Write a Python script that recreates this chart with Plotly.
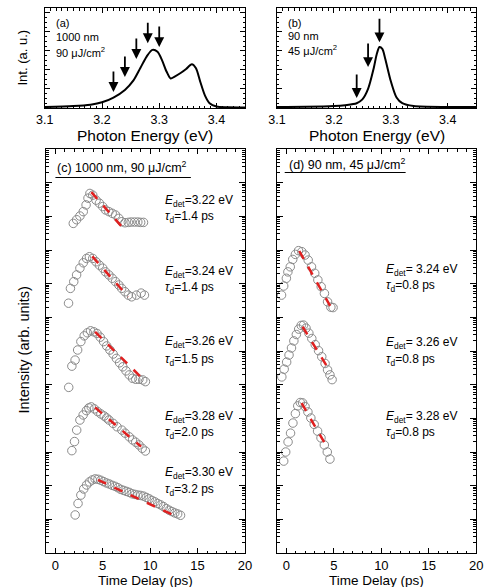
import plotly.graph_objects as go

W, H = 491, 587
FONT = "Liberation Sans, Arial, sans-serif"

# ---------------- data ----------------
# (a) 1000 nm spectrum
energy_a = [3.10, 3.15, 3.18, 3.20, 3.22, 3.24, 3.255, 3.267, 3.278, 3.288, 3.297, 3.305, 3.313,
            3.32, 3.327, 3.338, 3.347, 3.357, 3.364, 3.372, 3.38, 3.388, 3.40, 3.42, 3.45]
int_a = [0.01, 0.02, 0.035, 0.06, 0.11, 0.19, 0.29, 0.42, 0.54, 0.61, 0.59, 0.50, 0.38,
         0.31, 0.33, 0.37, 0.41, 0.46, 0.42, 0.27, 0.13, 0.05, 0.015, 0.008, 0.006]
arrows_a_E = [3.22, 3.24, 3.26, 3.28, 3.30]
arrows_a_tip = [0.168, 0.326, 0.515, 0.68, 0.64]

# (b) 90 nm spectrum
energy_b = [3.10, 3.15, 3.20, 3.22, 3.24, 3.25, 3.26, 3.27, 3.275, 3.28, 3.285, 3.29, 3.30,
            3.31, 3.32, 3.34, 3.40, 3.45]
int_b = [0.01, 0.012, 0.02, 0.03, 0.05, 0.09, 0.2, 0.42, 0.56, 0.64, 0.62, 0.52, 0.28,
         0.11, 0.05, 0.02, 0.01, 0.01]
arrows_b_E = [3.24, 3.26, 3.28]
arrows_b_tip = [0.105, 0.43, 0.69]

# (c) 1000 nm transients (log10 of intensity, offset by decades)
c1_t = [1.9, 2.25, 2.6, 2.95, 3.25, 3.45, 3.65, 3.95, 4.3, 4.65, 5.0, 5.3, 5.65, 6.0, 6.35,
        6.7, 7.0, 7.35, 7.7, 8.0, 8.35, 8.7, 9.0, 9.3]
c1_log = [9.79, 9.90, 10.01, 10.14, 10.34, 10.54, 10.68, 10.63, 10.48, 10.39, 10.29, 10.19,
          10.14, 10.09, 10.04, 9.94, 9.84, 9.81, 9.82, 9.83, 9.83, 9.83, 9.82, 9.82]
c1_fit_t = [3.8, 7.25]
c1_fit_log = [10.72, 9.62]

c2_t = [1.4, 1.6, 1.95, 2.25, 2.6, 2.95, 3.3, 3.6, 3.95, 4.3, 4.65, 5.0, 5.3, 5.65, 6.0,
        6.35, 6.7, 7.0, 7.35, 7.7, 8.05, 8.55, 9.05, 9.4]
c2_log = [7.42, 7.86, 8.06, 8.26, 8.46, 8.62, 8.75, 8.80, 8.75, 8.65, 8.55, 8.46, 8.35, 8.26,
          8.16, 8.06, 7.96, 7.86, 7.76, 7.66, 7.61, 7.66, 7.72, 7.66]
c2_fit_t = [3.9, 7.7]
c2_fit_log = [8.81, 7.61]

c3_t = [1.42, 1.75, 2.09, 2.36, 2.70, 3.05, 3.38, 3.72, 4.07, 4.40, 4.74, 5.09, 5.42, 5.76,
        6.10, 6.44, 6.78, 7.12, 7.46, 7.80, 8.14, 8.48, 8.82, 9.22, 9.50]
c3_log = [4.92, 5.55, 5.73, 6.03, 6.28, 6.45, 6.54, 6.60, 6.57, 6.52, 6.41, 6.28, 6.15, 6.03,
          5.91, 5.78, 5.65, 5.53, 5.41, 5.29, 5.19, 5.16, 5.16, 5.14, 5.09]
c3_fit_t = [4.2, 9.05]
c3_fit_log = [6.57, 5.22]

c4_t = [1.75, 2.03, 2.26, 2.60, 2.94, 3.28, 3.54, 3.79, 4.13, 4.47, 4.81, 5.15, 5.42, 5.66,
        6.10, 6.51, 7.02, 7.36, 7.80, 8.14, 8.48, 8.82, 9.16, 9.50]
c4_log = [3.04, 3.31, 3.65, 3.95, 4.10, 4.23, 4.31, 4.34, 4.28, 4.20, 4.13, 4.07, 4.01, 3.95,
          3.85, 3.75, 3.65, 3.56, 3.45, 3.36, 3.29, 3.21, 3.11, 3.03]
c4_fit_t = [4.2, 9.05]
c4_fit_log = [4.32, 3.16]

c5_t = [2.1, 2.4, 2.7, 3.0, 3.3, 3.6, 3.9, 4.2, 4.5, 4.8, 5.1, 5.4, 5.7, 6.0, 6.3, 6.6, 6.9,
        7.2, 7.5, 7.8, 8.1, 8.4, 8.7, 9.0, 9.3, 9.6, 9.9, 10.2, 10.5, 10.8, 11.1, 11.4, 11.7,
        12.0, 12.3, 12.6, 12.9, 13.2]
c5_log = [1.13, 1.47, 1.72, 1.90, 2.02, 2.11, 2.17, 2.20, 2.19, 2.16, 2.12, 2.08, 2.05, 2.01,
          1.98, 1.94, 1.89, 1.86, 1.83, 1.80, 1.76, 1.74, 1.72, 1.71, 1.69, 1.65, 1.61, 1.56,
          1.52, 1.47, 1.43, 1.38, 1.32, 1.27, 1.23, 1.19, 1.16, 1.12]
c5_fit_t = [4.5, 12.8]
c5_fit_log = [2.17, 1.08]

c_labels = ["3.22", "3.24", "3.26", "3.28", "3.30"]
c_taus = ["1.4", "1.4", "1.5", "2.0", "3.2"]

# (d) 90 nm transients
d1_t = [-0.52, -0.29, -0.01, 0.15, 0.40, 0.66, 0.94, 1.27, 1.62, 1.96, 2.29, 2.64, 2.98, 3.31,
        3.66, 4.00, 4.33, 4.68, 4.91]
d1_log = [7.66, 7.93, 8.16, 8.35, 8.50, 8.72, 8.87, 8.98, 8.95, 8.85, 8.70, 8.50, 8.31, 8.11,
          7.91, 7.71, 7.46, 7.30, 7.29]
d1_fit_t = [1.35, 4.6]
d1_fit_log = [8.97, 7.34]

d2_t = [-0.49, -0.24, 0.02, 0.27, 0.53, 0.78, 1.04, 1.29, 1.55, 1.80, 2.06, 2.36, 2.67, 3.03,
        3.38, 3.72, 4.07, 4.33, 4.58, 4.81]
d2_log = [5.23, 5.46, 5.67, 5.88, 6.09, 6.30, 6.49, 6.65, 6.76, 6.77, 6.68, 6.53, 6.37, 6.19,
          6.01, 5.83, 5.63, 5.44, 5.29, 5.15]
d2_fit_t = [1.7, 4.5]
d2_fit_log = [6.72, 5.44]

d3_t = [-0.29, -0.08, 0.17, 0.43, 0.68, 0.94, 1.19, 1.45, 1.70, 1.96, 2.26, 2.57, 2.92, 3.28,
        3.64, 3.99, 4.30, 4.58]
d3_log = [2.73, 3.00, 3.30, 3.56, 3.86, 4.14, 4.37, 4.47, 4.46, 4.35, 4.19, 4.01, 3.82, 3.62,
          3.42, 3.21, 3.00, 2.79]
d3_fit_t = [1.6, 4.45]
d3_fit_log = [4.45, 3.06]

d_labels = ["3.24", "3.26", "3.28"]
d_taus = ["0.8", "0.8", "0.8"]

# ---------------- figure ----------------
def fx(p):
    return p / W


def fy(p):
    return 1 - p / H


fig = go.Figure()

fig.add_trace(go.Scatter(x=energy_a, y=int_a, mode="lines", xaxis="x", yaxis="y",
                         line=dict(color="black", width=2, shape="spline", smoothing=0.8)))
fig.add_trace(go.Scatter(x=energy_b, y=int_b, mode="lines", xaxis="x2", yaxis="y2",
                         line=dict(color="black", width=2, shape="spline", smoothing=0.8)))

marker = dict(symbol="circle-open", size=8.5, color="#8a8a8a", line=dict(width=1))
fitline = dict(color="#e02020", width=2.5, dash="dash")

c_sets = [(c1_t, c1_log, c1_fit_t, c1_fit_log), (c2_t, c2_log, c2_fit_t, c2_fit_log),
          (c3_t, c3_log, c3_fit_t, c3_fit_log), (c4_t, c4_log, c4_fit_t, c4_fit_log),
          (c5_t, c5_log, c5_fit_t, c5_fit_log)]
d_sets = [(d1_t, d1_log, d1_fit_t, d1_fit_log), (d2_t, d2_log, d2_fit_t, d2_fit_log),
          (d3_t, d3_log, d3_fit_t, d3_fit_log)]

for sets, xa, ya in [(c_sets, "x3", "y3"), (d_sets, "x4", "y4")]:
    for t, lg, ft, flg in sets:
        fig.add_trace(go.Scatter(x=t, y=[10 ** v for v in lg], mode="markers",
                                 xaxis=xa, yaxis=ya, marker=marker))
        fig.add_trace(go.Scatter(x=ft, y=[10 ** v for v in flg], mode="lines",
                                 xaxis=xa, yaxis=ya, line=fitline))

# panel pixel boxes: (left, right, top, bottom)
box_a = (37, 244, 8, 108)
box_b = (277, 483, 8, 108)
box_c = (38, 244, 149, 553)
box_d = (277, 483, 149, 553)


def dom(box):
    l, r, t, b = box
    return [fx(l), fx(r)], [fy(b), fy(t)]


common = dict(showline=True, linecolor="black", linewidth=1, mirror="allticks",
              ticks="inside", tickcolor="black", ticklen=5, showgrid=False, zeroline=False,
              tickfont=dict(family=FONT, size=12.5, color="black"))
bottom_x_common = {**common, "tickfont": dict(family=FONT, size=13, color="black")}
log_common = {k: v for k, v in common.items() if k != "ticklen"}

xa_d, ya_d = dom(box_a)
xb_d, yb_d = dom(box_b)
xc_d, yc_d = dom(box_c)
xd_d, yd_d = dom(box_d)

top_x = dict(range=[3.1, 3.45], tick0=3.1, dtick=0.1, tickformat=".1f",
             minor=dict(ticks="inside", ticklen=2.5, dtick=0.01, tickcolor="black"))
top_y = dict(range=[0, 1.05], dtick=0.2, tick0=0, showticklabels=False,
             minor=dict(ticks="inside", ticklen=2.5, dtick=0.05, tickcolor="black"))
bot_x = dict(range=[-1, 20], tick0=0, dtick=5,
             minor=dict(ticks="inside", ticklen=2.5, dtick=1, tickcolor="black"))
bot_y = dict(type="log", range=[0, 12], dtick=1, showticklabels=False, ticklen=6,
             minor=dict(ticks="inside", ticklen=3, dtick="D1", tickcolor="black"))

fig.update_layout(
    width=W, height=H, margin=dict(l=0, r=0, t=0, b=0),
    paper_bgcolor="white", plot_bgcolor="white", showlegend=False,
    xaxis=dict(domain=xa_d, anchor="y", **common, **top_x),
    yaxis=dict(domain=ya_d, anchor="x", **common, **top_y),
    xaxis2=dict(domain=xb_d, anchor="y2", **common, **top_x),
    yaxis2=dict(domain=yb_d, anchor="x2", **common, **top_y),
    xaxis3=dict(domain=xc_d, anchor="y3", **bottom_x_common, **bot_x),
    yaxis3=dict(domain=yc_d, anchor="x3", **log_common, **bot_y),
    xaxis4=dict(domain=xd_d, anchor="y4", **bottom_x_common, **bot_x),
    yaxis4=dict(domain=yd_d, anchor="x4", **log_common, **bot_y),
)

ann = []


def text(px, py, s, size=12, xanchor="left", textangle=0):
    ann.append(dict(x=fx(px), y=fy(py), xref="paper", yref="paper", text=s, showarrow=False,
                    xanchor=xanchor, yanchor="middle", textangle=textangle,
                    font=dict(family=FONT, size=size, color="black")))


# axis titles
text(14, 58, "Int. (a. u.)", 13, "center", -90)
text((box_a[0] + box_a[1]) / 2, 135, "Photon Energy (eV)", 15.5, "center")
text((box_b[0] + box_b[1]) / 2, 135, "Photon Energy (eV)", 15.5, "center")
text(16, 350, "Intensity (arb. units)", 14.5, "center", -90)
text((box_c[0] + box_c[1]) / 2, 580.5, "Time Delay (ps)", 13.5, "center")
text((box_d[0] + box_d[1]) / 2, 580.5, "Time Delay (ps)", 13.5, "center")

# top panel labels
text(46, 23, "(a)", 11)
text(46, 37, "1000 nm", 11)
text(46, 52, "90 μJ/cm<sup>2</sup>", 11)
text(286, 23, "(b)", 11)
text(286, 36, "90 nm", 11)
text(286, 50, "45 μJ/cm<sup>2</sup>", 11)

# arrows
for E, tip in zip(arrows_a_E, arrows_a_tip):
    ann.append(dict(x=E, y=tip, xref="x", yref="y", text="", showarrow=True, ax=0, ay=-22,
                    arrowhead=2, arrowsize=1.1, arrowwidth=1.8, arrowcolor="black"))
for E, tip in zip(arrows_b_E, arrows_b_tip):
    ann.append(dict(x=E, y=tip, xref="x2", yref="y2", text="", showarrow=True, ax=0, ay=-25,
                    arrowhead=2, arrowsize=1.1, arrowwidth=1.8, arrowcolor="black"))

# bottom panel headers
text(48, 167, "(c) 1000 nm, 90 μJ/cm<sup>2</sup>", 12.5)
text(287, 164, "(d) 90 nm, 45 μJ/cm<sup>2</sup>", 12.5)

c_text_y = [(201, 217), (272, 288), (342, 360), (417, 433), (473, 490)]
for (ye, yt), e, tau in zip(c_text_y, c_labels, c_taus):
    text(159, ye, f"<i>E</i><sub>det</sub>={e} eV", 12)
    text(159, yt, f"<i>τ</i><sub>d</sub>={tau} ps", 12)

d_text_y = [(270, 286), (343, 360), (417, 433)]
for (ye, yt), e, tau in zip(d_text_y, d_labels, d_taus):
    text(388, ye, f"<i>E</i><sub>det</sub>= {e} eV", 12)
    text(388, yt, f"<i>τ</i><sub>d</sub>={tau} ps", 12)

fig.update_layout(annotations=ann)

fig.update_layout(shapes=[
    dict(type="line", xref="paper", yref="paper", x0=fx(48), x1=fx(188), y0=fy(177.5), y1=fy(177.5),
         line=dict(color="black", width=1)),
    dict(type="line", xref="paper", yref="paper", x0=fx(285), x1=fx(410), y0=fy(172.5), y1=fy(172.5),
         line=dict(color="black", width=1)),
])

fig.write_html(
    "out.html",
    config={"displayModeBar": False},
    post_script="document.body.style.margin='0';document.body.style.padding='0';"
                "document.body.style.overflow='hidden';",
)
